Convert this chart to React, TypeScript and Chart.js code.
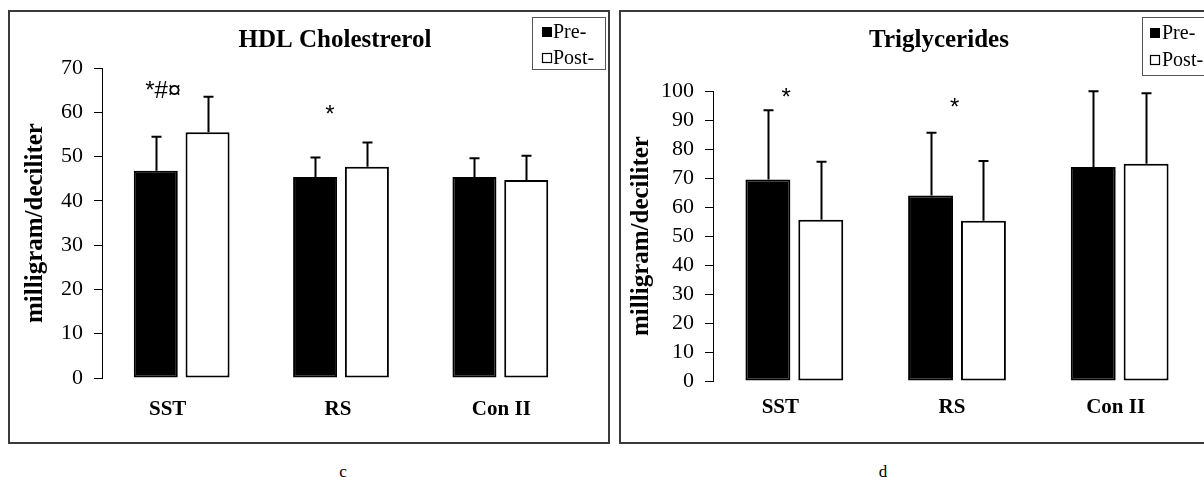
import React, { useEffect, useRef } from 'react';
import { Chart, registerables } from 'chart.js';

Chart.register(...registerables);

// ---------- data ----------
const categories = ['SST', 'RS', 'Con II'];
const seriesLabels = ['Pre-', 'Post-'];

// HDL Cholesterol (mg/dl): means and upper error (SD)
const hdlPre = [46.8, 45.4, 45.4];
const hdlPost = [55.5, 47.7, 44.7];
const hdlPreErr = [7.7, 4.4, 4.2];
const hdlPostErr = [8.0, 5.5, 5.5];
const hdlMarks = ['*#¤', '*', ''];
const hdlMarkLevel = [63.3, 57.9, 0];

// Triglycerides (mg/dl)
const tgPre = [69.5, 64.0, 73.8];
const tgPost = [55.6, 55.3, 74.9];
const tgPreErr = [23.9, 21.6, 26.1];
const tgPostErr = [20.0, 20.6, 24.3];
const tgMarks = ['*', '*', ''];
const tgMarkLevel = [95.1, 91.6, 0];

const hdlTicks = { min: 0, max: 70, step: 10 };
const tgTicks = { min: 0, max: 100, step: 10 };

const SERIF = '"Liberation Serif", "Times New Roman", serif';
const SANS = '"Liberation Sans", Arial, sans-serif';

type Spec = {
  title: string;
  pre: number[];
  post: number[];
  preErr: number[];
  postErr: number[];
  marks: string[];
  markLevel: number[];
  ticks: { min: number; max: number; step: number };
  layout: {
    padTop: number;
    padRight: number;
    xHeight: number;
    catLabelY: number;
    catLabelShift: number[];
    yWidth: number;
    yTitlePad: number;
    titleX: number;
    titleBaseline: number;
    markOffset: number[]; // fraction of category width
    legend: { x: number; y: number; w: number; h: number; rows: number[]; mx: number; tx: number };
  };
};

function decorPlugin(spec: Spec) {
  return {
    id: 'decor',
    afterDatasetsDraw(chart: any) {
      const ctx: CanvasRenderingContext2D = chart.ctx;
      const yScale = chart.scales.y;
      const xScale = chart.scales.x;
      const L = spec.layout;
      ctx.save();
      // error bars
      const errs = [spec.preErr, spec.postErr];
      const vals = [spec.pre, spec.post];
      chart.data.datasets.forEach((_: any, di: number) => {
        const meta = chart.getDatasetMeta(di);
        meta.data.forEach((bar: any, i: number) => {
          const top = yScale.getPixelForValue(vals[di][i]);
          const end = yScale.getPixelForValue(vals[di][i] + errs[di][i]);
          const x = Math.round(bar.x) + 0.5;
          ctx.strokeStyle = '#000';
          ctx.lineWidth = 2;
          ctx.beginPath();
          ctx.moveTo(x, top);
          ctx.lineTo(x, end);
          ctx.moveTo(x - 5, end);
          ctx.lineTo(x + 5, end);
          ctx.stroke();
        });
      });
      // category labels
      ctx.fillStyle = '#000';
      ctx.textAlign = 'center';
      ctx.textBaseline = 'middle';
      ctx.font = `bold 21px ${SERIF}`;
      chart.data.labels.forEach((lab: string, i: number) => {
        ctx.fillText(lab, xScale.getPixelForValue(i) + L.catLabelShift[i], L.catLabelY);
      });
      // significance marks
      ctx.textBaseline = 'alphabetic';
      ctx.font = `24px ${SANS}`;
      spec.marks.forEach((m, i) => {
        if (!m) return;
        const cw = xScale.width / categories.length;
        const x = xScale.getPixelForValue(i) + L.markOffset[i] * cw;
        const y = yScale.getPixelForValue(spec.markLevel[i]);
        ctx.fillText(m, x, y);
      });
      // title
      ctx.font = `bold 25px ${SERIF}`;
      ctx.fillText(spec.title, L.titleX, L.titleBaseline);
      // legend
      const lg = L.legend;
      ctx.fillStyle = '#fff';
      ctx.fillRect(lg.x, lg.y, lg.w, lg.h);
      ctx.strokeStyle = '#555';
      ctx.lineWidth = 1;
      ctx.strokeRect(lg.x + 0.5, lg.y + 0.5, lg.w, lg.h);
      ctx.font = `20px ${SERIF}`;
      ctx.textAlign = 'left';
      ctx.textBaseline = 'middle';
      chart.data.datasets.forEach((ds: any, i: number) => {
        const cy = lg.rows[i];
        if (i === 0) {
          ctx.fillStyle = '#000';
          ctx.fillRect(lg.mx, cy - 5, 10, 10);
        } else {
          ctx.fillStyle = '#fff';
          ctx.fillRect(lg.mx, cy - 5, 10, 10);
          ctx.strokeStyle = '#000';
          ctx.lineWidth = 1.2;
          ctx.strokeRect(lg.mx + 0.5, cy - 4.5, 9, 9);
        }
        ctx.fillStyle = '#000';
        ctx.fillText(ds.label, lg.tx, cy + 1);
      });
      ctx.restore();
    },
  };
}

function makeConfig(spec: Spec): any {
  const L = spec.layout;
  const common = {
    borderColor: '#000',
    borderWidth: 2,
    borderSkipped: false,
    categoryPercentage: 0.65,
    barPercentage: 0.85,
  };
  return {
    type: 'bar',
    data: {
      labels: categories,
      datasets: [
        { ...common, label: seriesLabels[0], data: spec.pre, backgroundColor: '#000' },
        { ...common, label: seriesLabels[1], data: spec.post, backgroundColor: '#fff' },
      ],
    },
    options: {
      animation: false,
      responsive: false,
      maintainAspectRatio: false,
      layout: { padding: { top: L.padTop, right: L.padRight, bottom: 0, left: 0 } },
      plugins: {
        legend: { display: false },
        title: { display: false },
        tooltip: { enabled: false },
      },
      scales: {
        x: {
          grid: { display: false, drawTicks: false },
          border: { display: false },
          ticks: { display: false },
          afterFit: (s: any) => {
            s.height = L.xHeight;
          },
        },
        y: {
          min: spec.ticks.min,
          max: spec.ticks.max,
          ticks: {
            stepSize: spec.ticks.step,
            autoSkip: false,
            color: '#000',
            padding: 11,
            font: { family: SERIF, size: 22 },
          },
          grid: {
            drawOnChartArea: false,
            drawTicks: true,
            tickLength: 8,
            color: '#000',
            lineWidth: 1,
          },
          border: { display: true, color: '#000', width: 1 },
          title: {
            display: true,
            text: 'milligram/deciliter',
            color: '#000',
            font: { family: SERIF, size: 25, weight: 'bold' },
            padding: { top: L.yTitlePad, bottom: 0 },
          },
          afterFit: (s: any) => {
            s.width = L.yWidth;
          },
        },
      },
    },
    plugins: [decorPlugin(spec)],
  };
}

const hdlSpec: Spec = {
  title: 'HDL Cholestrerol',
  pre: hdlPre,
  post: hdlPost,
  preErr: hdlPreErr,
  postErr: hdlPostErr,
  marks: hdlMarks,
  markLevel: hdlMarkLevel,
  ticks: hdlTicks,
  layout: {
    padTop: 56,
    padRight: 28,
    xHeight: 62,
    catLabelY: 398,
    catLabelShift: [-14, -3, 1],
    yWidth: 92,
    yTitlePad: 11,
    titleX: 325,
    titleBaseline: 35,
    markOffset: [-0.116, -0.069, 0],
    legend: { x: 522, y: 5, w: 73, h: 52, rows: [20, 46], mx: 532, tx: 543 },
  },
};

const tgSpec: Spec = {
  title: 'Triglycerides',
  pre: tgPre,
  post: tgPost,
  preErr: tgPreErr,
  postErr: tgPostErr,
  marks: tgMarks,
  markLevel: tgMarkLevel,
  ticks: tgTicks,
  layout: {
    padTop: 79,
    padRight: 18,
    xHeight: 59,
    catLabelY: 396,
    catLabelShift: [-14, -5, -4],
    yWidth: 92,
    yTitlePad: 6,
    titleX: 318,
    titleBaseline: 35,
    markOffset: [-0.05, -0.015, 0],
    legend: { x: 521, y: 5, w: 80, h: 58, rows: [21, 48], mx: 529, tx: 541 },
  },
};

function BarChart({ spec, left, top }: { spec: Spec; left: number; top: number }) {
  const ref = useRef<HTMLCanvasElement | null>(null);
  useEffect(() => {
    if (!ref.current) return;
    const chart = new Chart(ref.current, makeConfig(spec));
    return () => chart.destroy();
  }, [spec]);
  return (
    <canvas
      ref={ref}
      width={598}
      height={428}
      style={{ position: 'absolute', left, top, width: 598, height: 428 }}
    />
  );
}

export default function App() {
  const panel = (left: number, width: number): React.CSSProperties => ({
    position: 'absolute',
    left,
    top: 10,
    width,
    height: 434,
    boxSizing: 'border-box',
    border: '2px solid #3a3a3a',
    background: '#fff',
  });
  const caption: React.CSSProperties = {
    position: 'absolute',
    top: 462,
    width: 40,
    textAlign: 'center',
    fontFamily: SERIF,
    fontSize: 17,
    lineHeight: '20px',
    color: '#000',
  };
  return (
    <div
      style={{
        position: 'fixed',
        left: 0,
        top: 0,
        width: 1204,
        height: 481,
        overflow: 'hidden',
        background: '#fff',
      }}
    >
      <div style={panel(8, 602)} />
      <div style={panel(619, 610)} />
      <BarChart spec={hdlSpec} left={10} top={12} />
      <BarChart spec={tgSpec} left={621} top={12} />
      <div style={{ ...caption, left: 323 }}>c</div>
      <div style={{ ...caption, left: 863 }}>d</div>
    </div>
  );
}
